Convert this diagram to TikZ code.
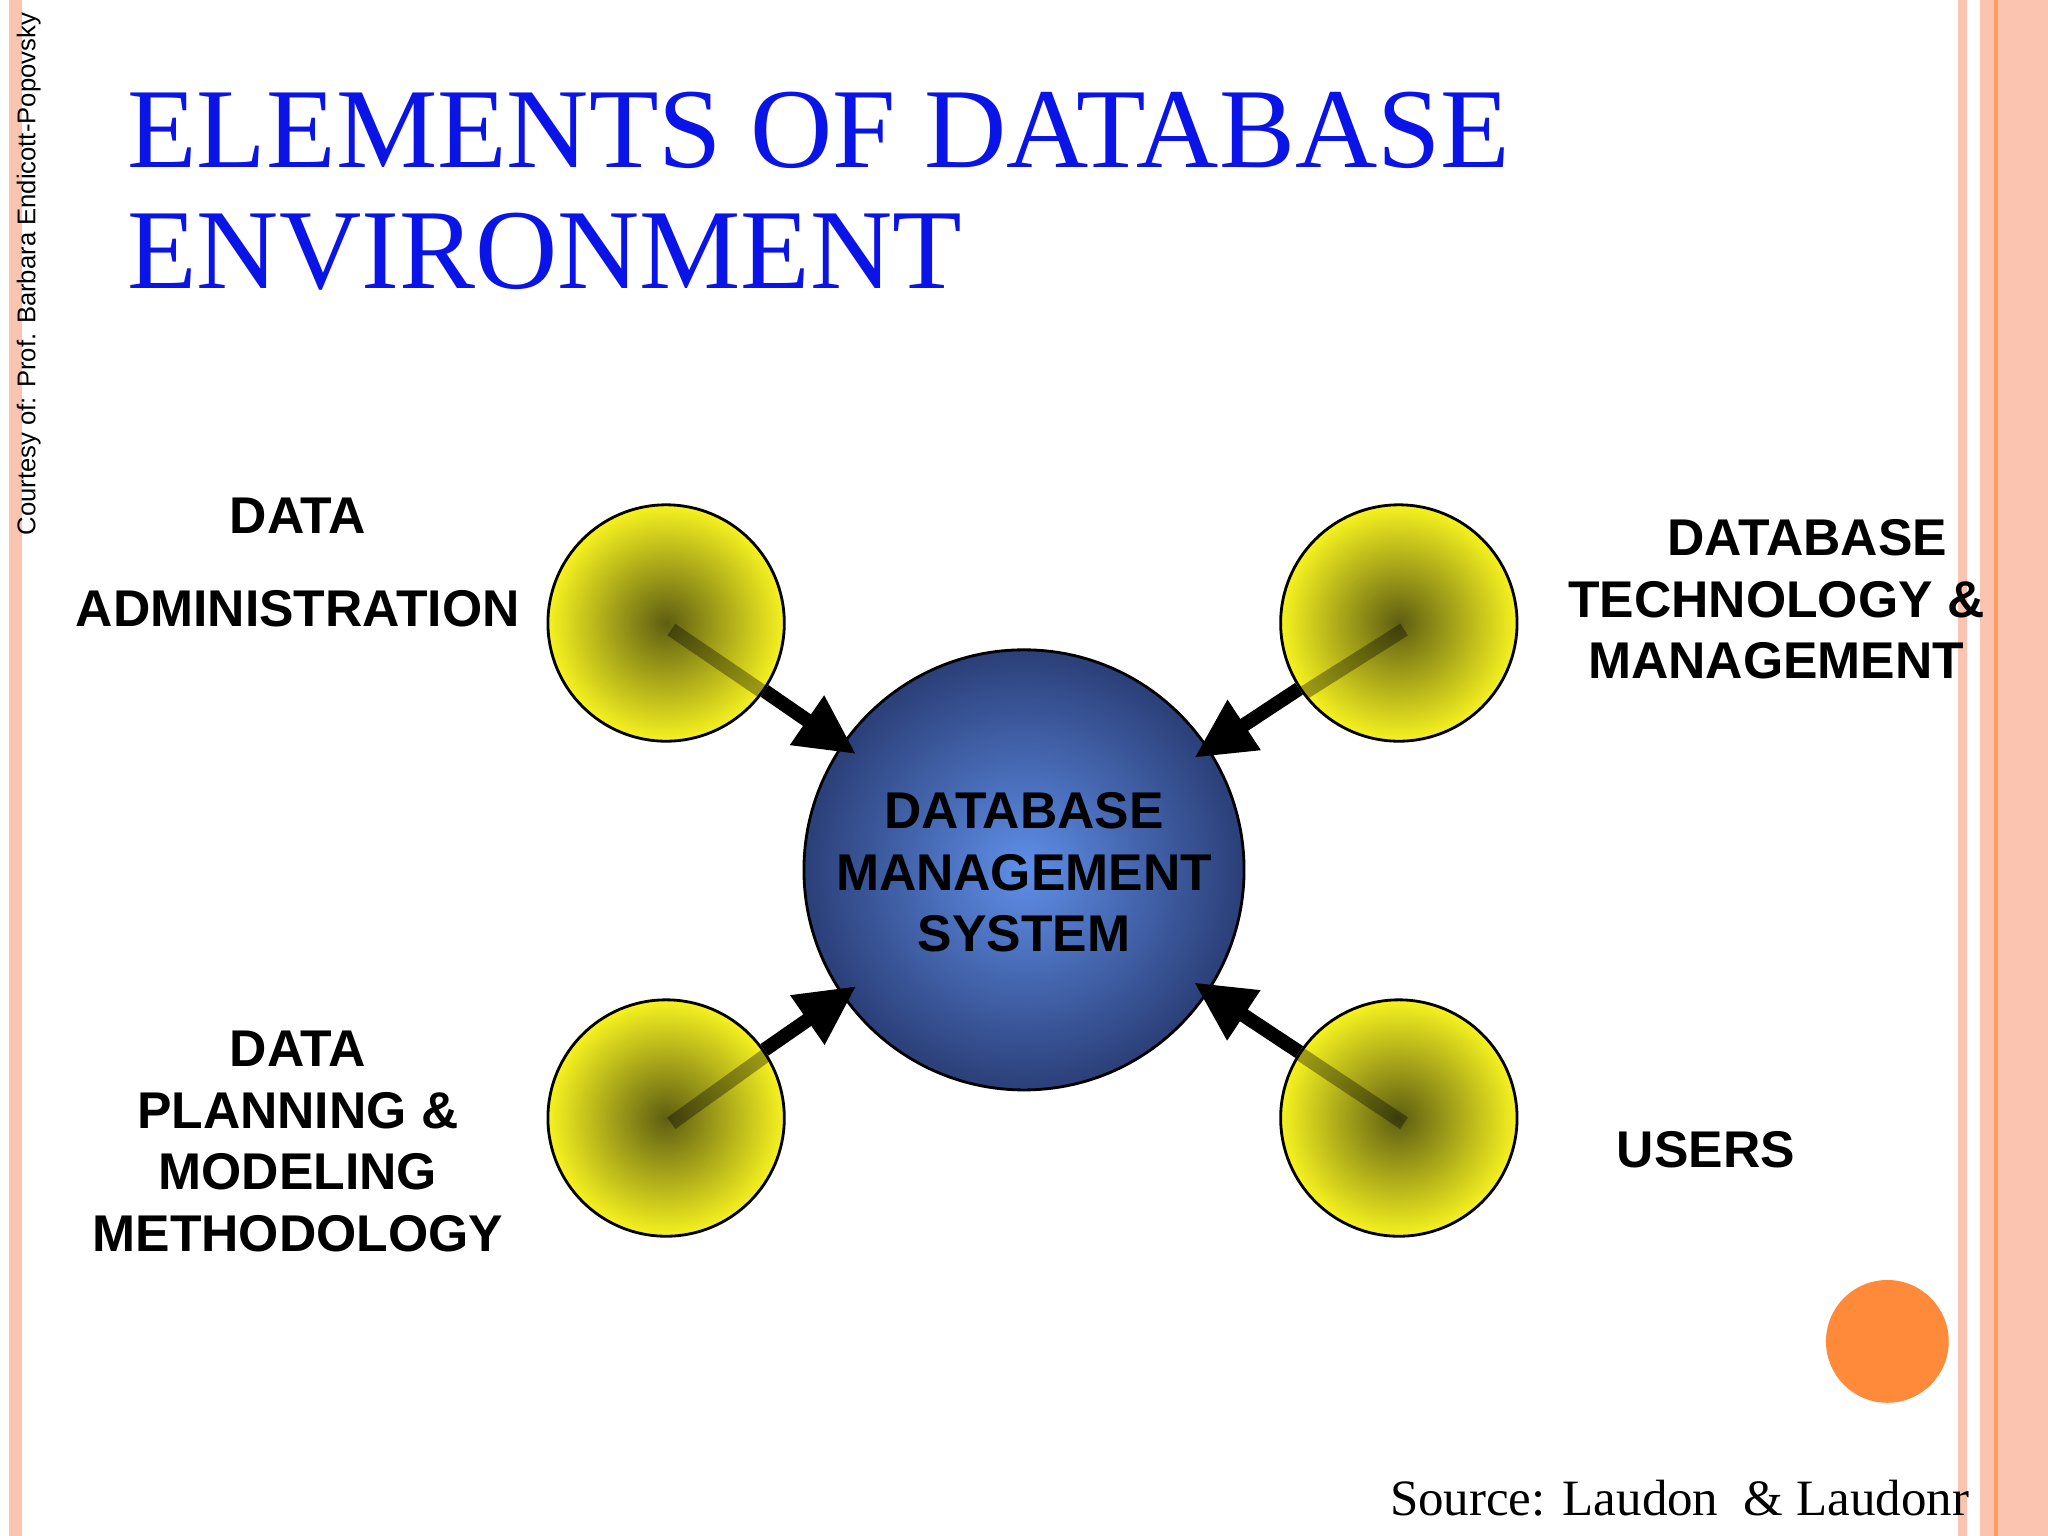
\documentclass[tikz,border=0pt]{standalone}
\usepackage{fontspec}
\setmainfont{Liberation Serif}
\setsansfont{Liberation Sans}
\usetikzlibrary{arrows.meta}
\definecolor{salmon}{HTML}{FBC4B0}
\definecolor{orng}{HTML}{FF8A3A}
\definecolor{ttl}{HTML}{0A14E6}
\definecolor{ycen}{HTML}{5E5E12}
\definecolor{yout}{HTML}{F6F220}
\definecolor{bcen}{HTML}{5F8FE8}
\definecolor{bout}{HTML}{2B3F78}
\tikzset{
 lbl/.style={font=\sffamily\bfseries\fontsize{14.7}{17.5}\selectfont,align=center},
 ycirc/.style={circle,draw=black,line width=0.8pt,minimum size=181*0.01306cm,inner sep=0,shading=radial,inner color=ycen,outer color=yout},
 arr/.style={line width=4pt,shorten >=-5pt,-{Triangle[length=17pt,width=16pt]}},
}
\begin{document}
\begin{tikzpicture}[x=0.01306cm,y=-0.01306cm]
\useasboundingbox (0,0) rectangle (1568,1176);
\fill[white] (0,0) rectangle (1568,1176);
\fill[salmon] (7,0) rectangle (17,1176);
\fill[salmon] (1499,0) rectangle (1506,1176);
\fill[salmon] (1516,0) rectangle (1568,1176);
\draw[orng!70!salmon,line width=1pt] (1528,0) -- (1528,1176);
\node[rotate=90,font=\sffamily\fontsize{7.3}{8}\selectfont,anchor=center] (court) at (22,210) {Courtesy of: Prof. Barbara Endicott-Popovsky};
\node[anchor=north west,align=left,text=ttl,font=\fontsize{32.4}{34.5}\selectfont,inner sep=0] (title) at (97,70) {ELEMENTS OF DATABASE\\ENVIRONMENT};
\node[circle,draw=black,line width=0.8pt,minimum size=337*0.01306cm,shading=radial,inner color=bcen,outer color=bout] (dbms) at (784,666) {};
\node[lbl] (dbmst) at (784,668) {DATABASE\\MANAGEMENT\\SYSTEM};
\node[ycirc] (a) at (510,477) {};
\node[ycirc] (b) at (1071,477) {};
\node[ycirc] (c) at (510,856) {};
\node[ycirc] (d) at (1071,856) {};
\coordinate (a0) at (514,482); \coordinate (b0) at (1075,482);
\coordinate (c0) at (514,860); \coordinate (d0) at (1075,860);
\foreach \s/\n in {a/a0,b/b0,c/c0,d/d0}{
 \begin{scope}
 \clip (\s.center) circle (90);
 \draw[line width=4pt,black,opacity=0.35] (\n) -- (dbms.center);
 \end{scope}
 \draw[arr] (\s) -- (dbms);
}
\node[lbl] (l1) at (228,395) {DATA};
\node[lbl] (l2) at (228,466) {ADMINISTRATION};
\node[lbl] (l3) at (1360,459) {\hspace*{1.2em}DATABASE\\TECHNOLOGY \&\\MANAGEMENT};
\node[lbl] (l4) at (228,874) {DATA\\PLANNING \&\\MODELING\\METHODOLOGY};
\node[lbl] (l5) at (1306,880) {USERS};
\fill[orng] (1445,1027) circle (47);
\node[anchor=base east,font=\fontsize{14.5}{16}\selectfont,inner sep=0] (src) at (1508,1160) {Source: Laudon\ \ \& Laudonr};
\end{tikzpicture}
\end{document}
